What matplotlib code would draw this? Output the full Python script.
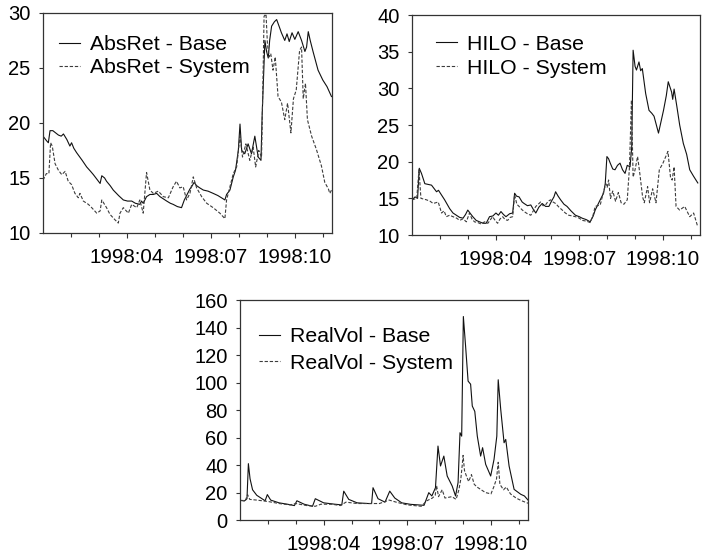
import matplotlib
matplotlib.use('Agg')
import matplotlib.pyplot as plt

plt.rcParams['font.family'] = ['Liberation Sans', 'DejaVu Sans']

# x positions are months since 1998-01-01
month_ticks = [1, 2, 4, 5, 7, 8, 10]
quarter_ticks = [3, 6, 9]
quarter_labels = ['1998:04', '1998:07', '1998:10']

absret_base_x = [0.0, 0.12, 0.19, 0.25, 0.35, 0.45, 0.55, 0.65, 0.73, 0.85, 0.96, 1.02, 1.10, 1.20, 1.40,
                 1.56, 1.70, 1.80, 1.95, 2.04, 2.10, 2.20, 2.27, 2.40, 2.51, 2.70, 2.87, 3.02, 3.17, 3.30,
                 3.46, 3.52, 3.58, 3.70, 3.82, 3.94, 4.06, 4.18, 4.30, 4.42, 4.55, 4.65, 4.80, 4.95, 5.05,
                 5.13, 5.25, 5.31, 5.40, 5.49, 5.60, 5.73, 5.90, 6.08, 6.25, 6.44, 6.50, 6.56, 6.68, 6.80,
                 6.88, 6.98, 7.04, 7.10, 7.21, 7.33, 7.45, 7.57, 7.69, 7.79, 7.83, 7.93, 7.99, 8.05, 8.10,
                 8.17, 8.27, 8.35, 8.45, 8.52, 8.64, 8.72, 8.80, 8.90, 9.00, 9.12, 9.24, 9.36, 9.42, 9.48,
                 9.55, 9.65, 9.83, 10.00, 10.15, 10.31]
absret_base_y = [18.8, 18.4, 18.2, 19.3, 19.3, 19.1, 18.9, 18.8, 19.0, 18.5, 17.9, 18.2, 17.7, 17.3, 16.6,
                 16.0, 15.6, 15.3, 14.8, 14.5, 15.2, 15.0, 14.7, 14.3, 13.9, 13.4, 13.0, 12.9, 12.9, 12.7,
                 12.6, 12.9, 12.7, 13.3, 13.5, 13.5, 13.6, 13.3, 13.1, 12.9, 12.7, 12.6, 12.4, 12.3, 13.0,
                 13.4, 14.0, 14.2, 14.6, 14.3, 14.1, 13.9, 13.8, 13.6, 13.4, 13.1, 13.0, 13.5, 13.9, 15.1,
                 15.7, 17.5, 19.9, 17.5, 17.2, 18.1, 17.2, 18.8, 16.9, 16.6, 20.6, 27.5, 26.5, 25.9, 27.5,
                 28.8, 29.2, 29.4, 28.7, 28.2, 27.5, 28.1, 27.4, 28.2, 27.6, 28.3, 27.5, 26.5, 26.9, 28.3,
                 27.5, 26.5, 24.8, 23.9, 23.3, 22.4]

absret_sys_x = [0.0, 0.12, 0.21, 0.27, 0.33, 0.43, 0.55, 0.67, 0.79, 0.90, 1.02, 1.14, 1.26, 1.32, 1.44,
                1.62, 1.74, 1.92, 2.04, 2.10, 2.27, 2.39, 2.57, 2.69, 2.75, 2.87, 3.05, 3.17, 3.35, 3.46,
                3.58, 3.70, 3.82, 3.94, 4.12, 4.30, 4.48, 4.65, 4.77, 4.89, 5.01, 5.13, 5.25, 5.37, 5.49,
                5.67, 5.85, 6.08, 6.32, 6.50, 6.56, 6.68, 6.80, 6.92, 7.04, 7.13, 7.25, 7.39, 7.51, 7.60,
                7.71, 7.81, 7.87, 7.90, 7.97, 8.02, 8.08, 8.14, 8.22, 8.30, 8.40, 8.52, 8.64, 8.74, 8.86,
                8.95, 9.05, 9.17, 9.24, 9.30, 9.38, 9.45, 9.60, 9.77, 9.95, 10.07, 10.20, 10.25, 10.31]
absret_sys_y = [14.8, 15.4, 15.4, 18.2, 17.9, 16.3, 15.7, 15.3, 15.6, 14.7, 14.4, 13.6, 13.2, 13.6, 12.9,
                12.6, 12.3, 11.8, 12.0, 13.0, 12.3, 11.7, 11.2, 10.9, 11.8, 12.3, 11.8, 12.6, 12.3, 13.0,
                11.8, 15.5, 13.9, 13.6, 13.8, 13.3, 13.2, 14.2, 14.7, 14.1, 14.2, 13.0, 13.6, 15.1, 14.1,
                13.3, 12.7, 12.3, 11.8, 11.3, 13.0, 14.2, 15.4, 16.0, 18.8, 16.9, 18.1, 16.6, 17.8, 16.0,
                17.5, 16.9, 25.1, 29.7, 29.9, 27.2, 26.0, 26.3, 24.8, 26.0, 22.4, 21.9, 20.3, 21.8, 19.1,
                22.2, 23.0, 26.6, 26.9, 22.2, 23.6, 20.3, 18.8, 17.6, 16.1, 14.6, 14.0, 13.6, 13.9]

hilo_base_x = [0.0, 0.11, 0.20, 0.26, 0.34, 0.46, 0.58, 0.70, 0.80, 0.88, 0.95, 1.00, 1.17, 1.35, 1.47,
               1.59, 1.71, 1.83, 1.92, 2.00, 2.08, 2.18, 2.30, 2.42, 2.55, 2.66, 2.78, 2.90, 3.01, 3.10,
               3.19, 3.28, 3.37, 3.50, 3.61, 3.68, 3.75, 3.84, 3.95, 4.02, 4.14, 4.26, 4.35, 4.44, 4.55,
               4.67, 4.79, 4.91, 5.00, 5.09, 5.15, 5.24, 5.33, 5.45, 5.56, 5.70, 5.86, 6.00, 6.10, 6.25,
               6.39, 6.50, 6.57, 6.66, 6.75, 6.87, 6.93, 6.99, 7.05, 7.11, 7.20, 7.28, 7.37, 7.46, 7.55,
               7.64, 7.72, 7.82, 7.88, 7.93, 8.00, 8.05, 8.14, 8.20, 8.26, 8.38, 8.50, 8.60, 8.68, 8.75,
               8.84, 9.02, 9.12, 9.19, 9.31, 9.35, 9.40, 9.50, 9.60, 9.73, 9.85, 9.96, 10.10, 10.25]
hilo_base_y = [14.8, 15.2, 15.0, 19.1, 18.4, 17.0, 16.9, 16.8, 16.3, 15.9, 16.1, 15.8, 14.8, 13.6, 13.0,
               12.7, 12.4, 12.3, 12.8, 13.4, 13.0, 12.5, 12.0, 11.8, 11.6, 11.6, 12.5, 12.6, 13.0, 12.7,
               13.2, 12.8, 12.5, 12.9, 13.0, 15.7, 15.3, 15.2, 14.5, 14.3, 14.0, 14.1, 13.5, 13.0, 13.8,
               14.3, 13.9, 13.9, 14.6, 15.2, 15.9, 15.3, 14.8, 14.2, 13.9, 13.3, 12.7, 12.5, 12.3, 12.1,
               11.8, 12.6, 13.4, 14.1, 14.8, 15.7, 17.0, 20.7, 20.4, 19.8, 19.0, 18.9, 19.5, 19.8, 18.9,
               18.4, 19.5, 19.3, 22.0, 35.2, 33.0, 32.5, 33.6, 32.4, 32.7, 29.3, 27.0, 26.6, 26.2, 25.2,
               23.9, 27.0, 29.0, 30.9, 29.5, 28.5, 29.9, 27.5, 25.0, 22.5, 21.0, 18.9, 18.0, 17.1]

hilo_sys_x = [0.0, 0.17, 0.25, 0.32, 0.52, 0.65, 0.76, 0.94, 1.06, 1.15, 1.23, 1.35, 1.47, 1.60, 1.71,
              1.83, 1.95, 2.06, 2.15, 2.24, 2.36, 2.48, 2.60, 2.72, 2.89, 2.98, 3.07, 3.16, 3.25, 3.34,
              3.43, 3.52, 3.61, 3.68, 3.76, 3.84, 3.93, 4.02, 4.14, 4.26, 4.35, 4.44, 4.53, 4.61, 4.70,
              4.79, 4.88, 4.97, 5.06, 5.15, 5.27, 5.39, 5.50, 5.62, 5.75, 5.86, 6.00, 6.10, 6.25, 6.39,
              6.50, 6.57, 6.66, 6.75, 6.87, 6.95, 7.00, 7.05, 7.12, 7.20, 7.30, 7.40, 7.50, 7.60, 7.72,
              7.80, 7.87, 7.93, 8.00, 8.09, 8.17, 8.27, 8.33, 8.45, 8.52, 8.63, 8.75, 8.87, 9.00, 9.18,
              9.27, 9.33, 9.40, 9.47, 9.60, 9.78, 9.96, 10.10, 10.25]
hilo_sys_y = [14.8, 15.0, 18.9, 15.0, 14.8, 14.6, 14.3, 14.5, 13.0, 13.3, 12.5, 12.7, 12.5, 12.3, 12.0,
              12.2, 11.8, 13.0, 12.2, 11.8, 11.7, 11.5, 11.8, 11.6, 12.5, 12.0, 11.6, 12.2, 12.5, 12.1,
              12.0, 12.4, 12.5, 15.5, 14.2, 13.9, 13.5, 13.2, 12.9, 12.7, 13.3, 13.9, 14.2, 14.5, 14.0,
              14.1, 14.6, 14.8, 14.5, 14.3, 13.8, 13.4, 13.0, 12.7, 12.6, 12.5, 12.3, 12.0, 11.9, 11.7,
              12.8, 13.9, 14.0, 14.1, 15.9, 17.0, 16.5, 17.5, 15.0, 16.0, 14.6, 15.8, 14.4, 14.2, 14.8,
              19.3, 28.4, 17.9, 18.9, 20.7, 18.4, 15.2, 14.4, 16.6, 14.4, 16.3, 14.4, 18.9, 19.8, 21.4,
              17.9, 17.5, 19.3, 13.9, 13.4, 13.9, 12.5, 13.0, 11.1]

realvol_base_x = [0.0, 0.15, 0.25, 0.30, 0.36, 0.45, 0.60, 0.90, 0.98, 1.10, 1.40, 1.70, 1.95, 2.04, 2.30,
                  2.60, 2.70, 3.00, 3.40, 3.65, 3.72, 3.90, 4.20, 4.60, 4.72, 4.77, 4.95, 5.20, 5.37, 5.55,
                  5.80, 6.12, 6.60, 6.77, 6.88, 7.01, 7.10, 7.19, 7.31, 7.43, 7.61, 7.73, 7.82, 7.89, 7.95,
                  8.01, 8.09, 8.18, 8.27, 8.33, 8.42, 8.51, 8.63, 8.70, 8.81, 8.99, 9.11, 9.21, 9.26, 9.35,
                  9.47, 9.53, 9.65, 9.83, 10.07, 10.20, 10.36]
realvol_base_y = [14.5, 13.8, 15.5, 41.0, 30.0, 22.0, 18.0, 14.0, 18.5, 14.5, 12.5, 11.5, 10.5, 14.0, 11.5,
                  10.0, 15.5, 12.5, 11.5, 11.0, 21.0, 15.0, 12.5, 12.0, 12.0, 23.5, 15.5, 13.0, 21.0, 16.0,
                  12.5, 11.4, 10.7, 19.9, 17.5, 23.5, 53.8, 39.3, 46.5, 32.0, 24.7, 17.5, 27.2, 63.5, 61.0,
                  148.0, 126.5, 101.0, 98.8, 82.9, 79.0, 61.0, 46.5, 52.6, 40.5, 32.0, 44.1, 61.0, 102.0, 80.5,
                  56.2, 58.6, 39.3, 22.3, 18.7, 17.5, 13.8]

realvol_sys_x = [0.0, 0.20, 0.27, 0.35, 0.60, 1.00, 1.40, 1.80, 2.00, 2.40, 2.70, 2.90, 3.30, 3.60, 3.80,
                 4.20, 4.70, 5.00, 5.35, 5.60, 6.00, 6.50, 6.70, 6.90, 7.00, 7.05, 7.12, 7.25, 7.35, 7.60,
                 7.75, 7.85, 7.92, 7.97, 8.00, 8.05, 8.12, 8.20, 8.30, 8.40, 8.50, 8.65, 8.80, 9.00, 9.10,
                 9.20, 9.26, 9.32, 9.45, 9.55, 9.70, 9.90, 10.10, 10.36]
realvol_sys_y = [14.0, 14.5, 18.5, 15.0, 14.5, 13.5, 12.0, 11.0, 12.0, 10.5, 10.0, 11.5, 11.5, 10.5, 13.0,
                 12.0, 12.0, 12.0, 14.5, 13.0, 11.0, 10.0, 14.0, 16.0, 18.0, 25.0, 17.0, 22.0, 16.0, 17.0,
                 15.0, 22.0, 30.0, 40.0, 47.0, 36.0, 32.0, 28.0, 33.0, 26.0, 24.0, 22.0, 20.0, 19.0, 24.0,
                 30.0, 42.0, 26.0, 22.0, 24.0, 19.0, 16.0, 14.0, 12.0]


def draw_panel(ax, name, xb, yb, xs, ys, ymax, ystep, leg_xy, leg_space):
    ax.plot(xb, yb, color='#111111', lw=0.8, label=f'{name} - Base')
    ax.plot(xs, ys, color='#3c3c3c', lw=0.8, dashes=(3, 1.6), label=f'{name} - System')
    ax.set_xlim(0, 10.33)
    ymin = 0 if ymax > 100 else 10
    ax.set_ylim(ymin, ymax)
    ax.set_yticks(range(ymin, ymax + 1, ystep))
    ax.set_xticks(quarter_ticks)
    ax.set_xticklabels(quarter_labels)
    ax.set_xticks(month_ticks, minor=True)
    ax.tick_params(axis='x', which='major', length=3.8, width=0.8, pad=7, labelsize=14.8, color='#333333')
    ax.tick_params(axis='x', which='minor', length=2.6, width=0.8, color='#333333')
    ax.tick_params(axis='y', length=3, width=0.8, pad=6, labelsize=14.5, color='#333333')
    for sp in ax.spines.values():
        sp.set_linewidth(0.9)
        sp.set_color('#333333')
    ax.legend(loc='upper left', bbox_to_anchor=leg_xy, frameon=False, fontsize=15.3,
              handlelength=1.0, handletextpad=0.45, labelspacing=leg_space,
              borderaxespad=0, borderpad=0)


fig = plt.figure(figsize=(7.02, 5.56), dpi=100)
ax1 = fig.add_axes([0.0613, 0.581, 0.4117, 0.3957])
ax2 = fig.add_axes([0.5869, 0.5773, 0.4103, 0.3957])
ax3 = fig.add_axes([0.3419, 0.0647, 0.4103, 0.3957])

draw_panel(ax1, 'AbsRet', absret_base_x, absret_base_y, absret_sys_x, absret_sys_y, 30, 5,
           (0.055, 0.90), 0.2)
draw_panel(ax2, 'HILO', hilo_base_x, hilo_base_y, hilo_sys_x, hilo_sys_y, 40, 5,
           (0.083, 0.91), 0.24)
draw_panel(ax3, 'RealVol', realvol_base_x, realvol_base_y, realvol_sys_x, realvol_sys_y, 160, 20,
           (0.066, 0.877), 0.35)

plt.savefig('out.png', dpi=100)
